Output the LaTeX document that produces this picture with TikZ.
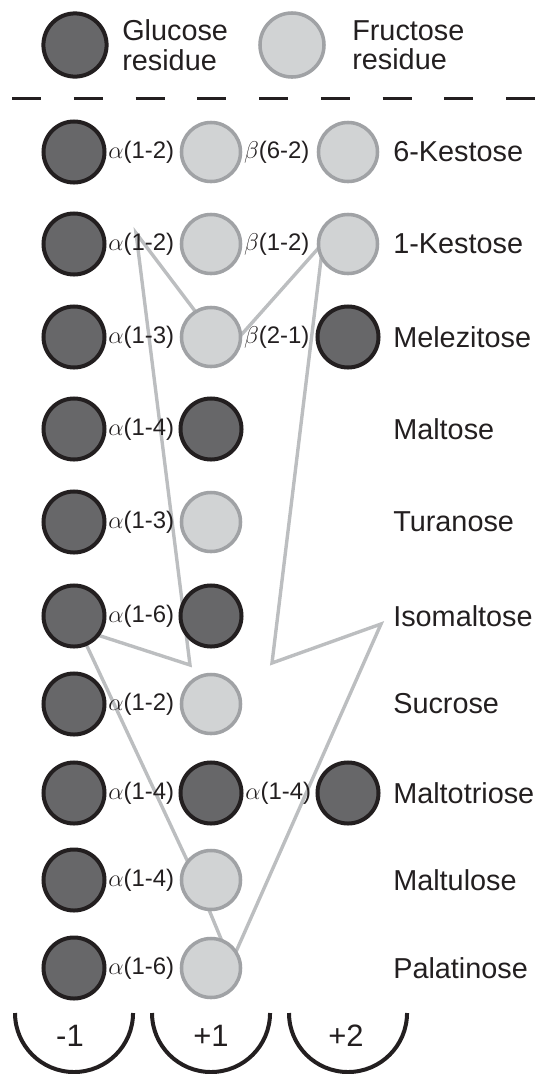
\documentclass[tikz,border=0pt]{standalone}
\usepackage{fontspec}
\setmainfont{Liberation Sans}
\definecolor{glufill}{HTML}{676769}
\definecolor{gluline}{HTML}{231F20}
\definecolor{frufill}{HTML}{D1D3D4}
\definecolor{fruline}{HTML}{A0A2A5}
\definecolor{pathgray}{HTML}{BCBEC0}
\begin{document}
\begin{tikzpicture}[x=0.025cm,y=-0.025cm]
\def\colA{74} %x of subsite -1
\def\colB{211} %x of subsite +1
\def\colC{348} %x of subsite +2
\def\namex{393} %x where the sugar names start

\def\nodewidth{1.525cm}
\def\nodewidthF{1.475cm}
\def\edgewidth{0.1cm}
\def\edgewidthF{0.088cm}

\tikzstyle{glu} = [circle, draw=gluline, line width=\edgewidth, fill=glufill, inner sep=0mm, minimum size=\nodewidth]
\tikzstyle{fru} = [circle, draw=fruline, line width=\edgewidthF, fill=frufill, inner sep=0mm, minimum size=\nodewidthF]
\tikzstyle{bond} = [anchor=west, inner sep=0.4mm, text=gluline, font=\fontsize{17}{17}\selectfont]
\tikzstyle{sugar} = [anchor=west, inner sep=0mm, text=gluline, font=\fontsize{20.5}{20.5}\selectfont]
\tikzstyle{legtext} = [anchor=west, align=left, inner sep=0mm, text=gluline, font=\fontsize{20.5}{21}\selectfont]
\tikzstyle{site} = [draw=gluline, line width=0.1cm]
\tikzstyle{sitetext} = [text=gluline, font=\fontsize{22}{22}\selectfont]

\useasboundingbox (0,0) rectangle (543,1074);

% legend
\node[glu, minimum size=1.58cm] (legglu) at (75,45) {};
\node[legtext] (legglutext) at (122,45) {Glucose\\residue};
\node[fru, minimum size=1.6cm] (legfru) at (292,45) {};
\node[legtext] (legfrutext) at (352,45) {Fructose\\residue};

\coordinate (sepL) at (12,98.5);
\coordinate (sepR) at (536,98.5);
\draw[gluline, line width=0.075cm, dash pattern=on 0.725cm off 0.819cm] (sepL)--(sepR);

% arrow behind the residues
\foreach \p/\x/\y in {1/136/233,2/226/352,3/323/243,4/272/663,5/381/624,6/231/963,7/200/888,8/79/629,9/190/665}{
 \coordinate (ar\p) at (\x,\y);
}
\draw[pathgray, line width=0.085cm] (ar1)--(ar2)--(ar3)--(ar4)--(ar5)--(ar6)--(ar7)--(ar8)--(ar9)--cycle;

% subsite -1
\foreach \r/\y in {1/152,2/244,3/337,4/429,5/522,6/616,7/704,8/793,9/880,10/968}{
 \node[glu] (a\r) at (\colA,\y) {};
}

% subsite +1
\foreach \r/\y/\t in {1/152/fru,2/244/fru,3/337/fru,4/429/glu,5/522/fru,6/616/glu,7/704/fru,8/793/glu,9/880/fru,10/968/fru}{
 \node[style=\t] (b\r) at (\colB,\y) {};
}

% subsite +2
\foreach \r/\y/\t in {1/152/fru,2/244/fru,3/337/glu,8/793/glu}{
 \node[style=\t] (c\r) at (\colC,\y) {};
}

% linkages
\foreach \r/\lab in {1/1-2,2/1-2,3/1-3,4/1-4,5/1-3,6/1-6,7/1-2,8/1-4,9/1-4,10/1-6}{
 \node[bond] (ab\r) at (a\r.east) {$\alpha$(\lab)};
}
\node[bond] (bc1) at (b1.east) {$\beta$(6-2)};
\node[bond] (bc2) at (b2.east) {$\beta$(1-2)};
\node[bond] (bc3) at (b3.east) {$\beta$(2-1)};
\node[bond] (bc8) at (b8.east) {$\alpha$(1-4)};

% sugar names
\foreach \r/\y/\name in {1/152/6-Kestose,2/244/1-Kestose,3/337/Melezitose,4/429/Maltose,5/522/Turanose,6/616/Isomaltose,7/704/Sucrose,8/793/Maltotriose,9/880/Maltulose,10/968/Palatinose}{
 \node[sugar] (n\r) at (\namex,\y) {\name};
}

% subsites
\foreach \s/\x/\lx/\lab in {1/\colA/70/-1,2/\colB/211/+1,3/\colC/346/+2}{
 \coordinate (s\s) at (\x-59,1013);
 \draw[site] (s\s) arc[start angle=180, end angle=360, radius=1.475cm];
 \node[sitetext] (sl\s) at (\lx,1036) {\lab};
}

\end{tikzpicture}
\end{document}
